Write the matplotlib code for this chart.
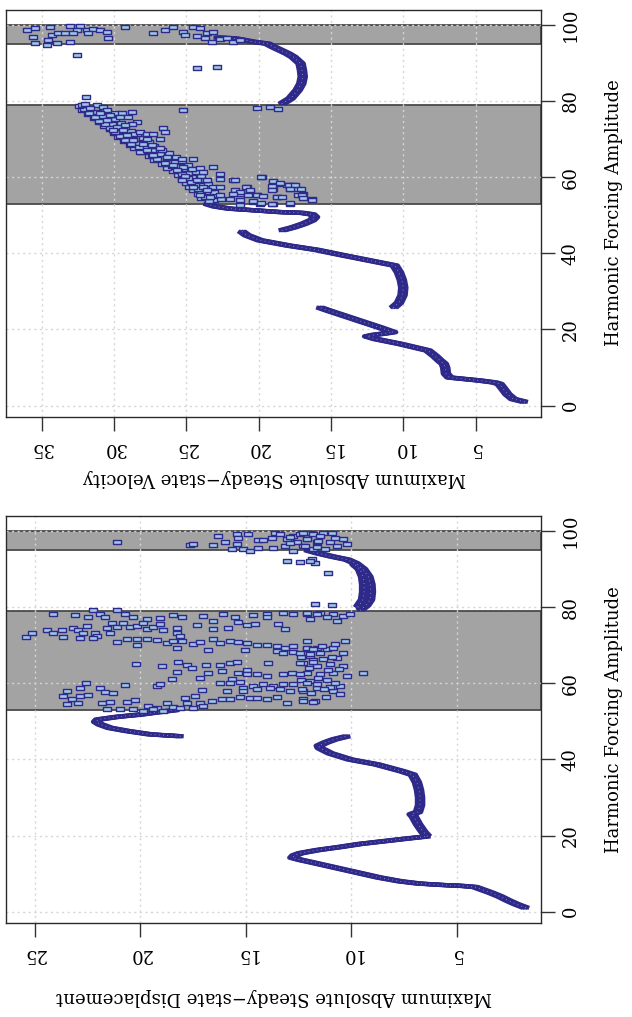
import numpy as np
import matplotlib
matplotlib.use("Agg")
import matplotlib.pyplot as plt
from matplotlib.path import Path
from matplotlib.transforms import offset_copy

plt.rcParams['font.family'] = ['DejaVu Serif']

# ---------------- data ----------------
F_TICKS = [0, 20, 40, 60, 80, 100]
D_TICKS = [5, 10, 15, 20, 25]
V_TICKS = [5, 10, 15, 20, 25, 30, 35]
BANDS = [(53.0, 79.0), (95.0, 100.0)]

# Displacement: continuous branches (forcing F, displacement D)
disp_b1_F = [1, 2, 3, 4, 5, 6, 6.5, 6.8, 7.0, 7.4, 8.0, 9.0, 10.0, 11.0, 12.0, 13.0, 13.6, 14.2,
             14.8, 15.4, 16.2, 17.0, 17.8, 18.5, 19.2, 19.8]
disp_b1_D = [1.73, 2.2, 2.6, 2.96, 3.4, 3.9, 4.15, 4.8, 5.6, 6.8, 7.7, 8.7, 9.5, 10.3, 11.1, 11.9, 12.4, 12.8,
             12.7, 12.4, 11.6, 10.55, 9.6, 8.5, 7.4, 6.4]
disp_b2_F = [19.8, 21, 23, 25, 25.6, 26.2, 28, 30, 32, 34, 36, 36.9, 38.7, 40, 41.6, 43.0, 43.6, 44.5, 45.3, 46.1]
disp_b2_D = [6.4, 6.6, 6.85, 7.05, 7.15, 6.85, 6.75, 6.75, 6.8, 6.9, 7.1, 7.6, 8.8, 10.07, 11.0, 11.5, 11.55, 11.2, 10.8, 10.2]
disp_b3_F = [46.1, 46.6, 47.5, 48.3, 49.2, 49.9, 50.5, 51.2, 51.8, 52.4, 53.0]
disp_b3_D = [18.1, 19.55, 20.65, 21.45, 21.9, 22.1, 22.0, 21.1, 20.0, 19.2, 18.3]
disp_b4_F = [79.2, 80.5, 82, 84, 86, 88, 90, 91.5, 92.5, 93.3, 94.2, 95.0]
disp_b4_D = [9.6, 9.3, 9.12, 9.08, 9.1, 9.2, 9.45, 9.8, 10.2, 10.9, 11.6, 12.1]
disp_b5_F = [80, 82, 84, 86, 88, 90, 91.5]
disp_b5_D = [9.7, 9.45, 9.4, 9.4, 9.45, 9.6, 9.9]

# Displacement: scattered points (F, D)
disp_upper_pts = [
    (97.0, 21.13), (96.3, 17.65), (96.6, 17.5), (96.3, 16.55), (98.8, 16.31), (97.0, 16.0), (95.3, 15.68),
    (99.2, 15.44), (98.3, 15.36), (96.6, 15.44), (95.3, 15.13), (99.2, 14.89), (94.8, 14.81), (97.7, 14.42),
    (95.5, 14.42), (97.7, 14.18), (98.1, 13.78), (95.5, 13.71), (99.6, 13.63), (99.2, 13.39), (96.1, 13.15),
    (97.9, 13.07), (98.8, 12.76), (94.8, 12.76), (97.0, 12.6), (99.2, 12.44), (96.1, 12.28), (97.9, 12.12),
    (99.6, 11.97), (95.3, 11.81), (97.0, 11.65), (92.2, 13.07), (91.9, 12.44), (92.6, 11.89), (91.6, 11.73),
    (99.6, 12.28), (99.2, 11.81), (99.6, 11.33), (99.6, 10.94), (97.9, 12.12), (97.5, 11.57), (97.0, 11.02),
    (97.9, 10.39), (96.1, 12.2), (95.7, 11.65), (96.1, 10.7), (96.6, 10.23), (95.3, 11.26), (92.2, 11.97),
    (88.9, 11.1), (80.8, 11.73), (80.5, 10.94), (98.4, 12.9), (98.6, 11.5), (96.8, 12.9), (98.2, 10.8)]
disp_lower_pts = [
    (78.2, 12.12), (78.6, 11.49), (78.2, 10.86), (77.7, 10.39), (78.2, 10.07), (76.8, 11.97), (77.3, 11.18),
    (76.4, 10.7), (71.1, 10.31), (71.1, 12.12), (68.9, 12.12), (69.4, 11.65), (68.9, 11.18), (69.4, 10.86),
    (68.1, 10.39), (67.2, 11.97), (66.3, 11.33), (66.7, 10.7), (65.4, 12.28), (64.6, 11.65), (65.0, 11.02),
    (64.6, 10.39), (62.8, 12.12), (62.4, 11.49), (62.8, 10.86), (61.9, 10.23), (62.8, 9.44), (60.6, 11.97),
    (61.0, 11.18), (59.3, 10.55), (58.0, 12.28), (58.9, 11.65), (58.0, 10.86), (57.3, 10.55), (55.8, 12.28),
    (55.4, 11.73),
    (56.5, 11.2), (57.5, 11.9), (59.0, 11.0), (60.0, 10.8), (61.5, 11.6), (63.5, 11.1), (64.0, 12.0),
    (66.0, 11.8), (67.0, 10.9), (68.0, 11.5), (69.9, 11.4), (70.4, 10.8), (63.8, 10.6), (60.9, 12.4),
    (66.9, 12.4), (58.6, 11.3),
    (78.15, 24.13), (77.98, 23.10), (79.2, 22.24), (77.3, 22.47), (78.15, 21.92), (77.3, 21.68), (79.2, 21.13),
    (78.15, 20.74), (77.55, 20.34), (76.85, 19.71), (77.1, 19.07), (78.0, 18.44), (77.55, 18.05), (77.7, 17.02),
    (78.15, 16.07), (77.55, 15.52), (78.0, 14.65), (78.15, 14.02), (78.6, 13.23), (78.15, 12.76), (78.4, 12.12),
    (78.15, 11.65),
    (72.2, 25.40), (73.3, 25.16), (73.95, 24.45), (73.1, 24.13), (74.0, 23.74), (72.3, 23.66), (74.65, 23.18),
    (73.95, 22.95), (73.3, 22.71), (75.1, 22.55), (73.3, 22.16), (72.5, 22.08), (74.65, 21.60), (73.3, 21.45),
    (75.95, 21.37), (74.9, 21.13), (75.95, 20.81), (74.8, 20.50), (75.1, 20.18), (75.95, 19.87), (74.2, 19.71),
    (74.8, 19.39), (75.5, 19.07), (73.95, 18.92), (74.65, 18.29), (73.3, 18.29), (72.5, 18.13), (75.35, 17.34),
    (74.2, 16.55), (76.4, 16.55), (74.65, 15.84), (76.15, 15.36), (75.3, 14.97), (75.5, 14.57), (77.55, 14.02),
    (75.5, 13.47), (74.2, 13.15),
    (72.0, 22.87), (72.0, 22.24), (70.9, 21.13), (71.6, 20.66), (71.6, 20.18), (70.1, 20.18), (71.6, 19.71),
    (71.4, 19.23), (70.5, 18.76), (71.15, 18.44), (71.15, 18.05), (70.45, 17.50), (70.9, 17.18), (71.6, 16.55),
    (70.5, 16.23), (71.15, 15.76), (70.9, 15.36), (70.5, 14.97), (70.0, 14.49), (70.1, 14.02), (69.8, 13.55),
    (69.4, 13.15), (69.8, 12.76), (69.4, 12.12), (68.95, 11.81),
    (69.4, 18.29), (68.8, 16.79), (68.8, 15.05), (68.5, 13.55), (67.9, 13.23), (68.25, 12.76), (68.1, 12.44),
    (67.6, 11.97),
    (65.0, 20.23), (64.6, 19.0), (65.7, 18.21), (64.8, 17.81), (64.8, 16.87), (64.8, 16.23), (65.3, 15.76),
    (65.7, 15.44), (65.45, 13.94), (65.3, 12.44), (65.6, 11.81),
    (63.1, 18.29), (64.1, 17.58), (61.5, 17.18), (62.8, 16.79), (63.3, 16.15), (63.5, 14.97), (62.4, 14.49),
    (62.4, 14.97), (62.8, 15.36), (61.9, 14.02), (62.4, 13.23), (62.8, 12.84), (62.4, 12.44), (61.2, 18.52),
    (61.05, 15.68),
    (60.0, 22.60), (59.6, 20.74), (59.3, 19.23), (59.75, 19.07), (60.0, 16.23), (60.0, 15.76), (60.4, 15.28),
    (58.9, 15.13), (59.3, 14.65), (59.75, 14.18), (59.3, 13.71), (59.75, 13.23), (59.75, 12.76), (60.2, 12.12),
    (59.75, 11.65), (58.0, 23.50), (58.87, 22.87), (58.7, 21.92), (57.7, 21.68), (57.55, 21.29), (58.25, 17.10),
    (58.0, 15.92), (58.0, 15.13), (58.4, 14.49), (58.87, 13.86), (58.4, 13.39), (58.0, 12.91), (58.4, 12.36),
    (56.7, 23.66), (55.8, 23.26), (56.7, 22.87), (56.85, 22.47), (54.5, 23.50), (54.75, 22.95), (54.9, 21.84),
    (55.1, 21.45), (55.1, 20.66), (55.5, 20.26), (54.05, 19.63), (53.6, 19.23), (54.75, 18.76), (53.9, 18.44),
    (56.2, 17.89), (54.9, 17.81), (56.7, 17.42), (54.9, 17.18), (55.3, 16.63), (55.8, 16.15), (55.9, 15.76),
    (56.5, 15.28), (56.1, 14.81), (56.25, 14.49), (55.9, 14.02), (56.3, 13.55), (54.9, 13.07), (55.3, 12.28),
    (55.1, 11.81), (53.2, 21.60), (53.2, 20.97), (53.35, 20.34), (52.75, 19.87), (53.2, 19.39), (52.75, 18.92),
    (53.6, 18.13), (53.6, 17.5), (54.05, 17.02)]

# Velocity: continuous branches (forcing F, velocity V)
vel_b1_F = [1, 1.75, 3, 4.5, 5.7, 6.1, 6.6, 7.4, 8.4, 10, 11, 11.8, 13, 14.5, 16.2, 17.5, 18.2, 18.6, 19.0,
            19.3, 20.5, 22, 23.5, 25, 25.8]
vel_b1_V = [1.6, 2.4, 2.8, 3.1, 3.35, 3.7, 4.7, 6.8, 7.05, 7.1, 7.2, 7.46, 7.8, 8.3, 10.2, 11.9, 12.5, 12.0,
            11.2, 10.7, 11.6, 12.8, 14.0, 15.2, 15.8]
vel_b2_F = [25.7, 27, 29, 31, 33, 35, 36.8, 38, 39.5, 40.9, 42, 43.4, 44.7, 45.8]
vel_b2_V = [10.7, 10.3, 10.05, 10.0, 10.1, 10.3, 10.6, 12.2, 14.2, 16.0, 17.9, 19.9, 20.8, 21.2]
vel_b3_F = [46.0, 46.8, 47.7, 48.7, 49.5, 50.2, 50.6, 50.8, 51.2, 51.7, 52.3, 53.0]
vel_b3_V = [18.4, 17.6, 16.9, 16.3, 16.1, 16.3, 17.0, 18.5, 20.0, 22.0, 23.0, 23.6]
vel_b4_F = [79.2, 80.6, 82.8, 84.5, 86.3, 88, 89.8, 91.5, 92.4, 93.3, 94.2, 95.0, 95.5, 96.0, 96.4, 96.6]
vel_b4_V = [18.4, 17.8, 17.3, 17.05, 16.95, 17.0, 17.1, 17.6, 18.0, 18.5, 19.0, 19.4, 20.4, 21.1, 21.7, 22.9]

# Velocity: dense diagonal cloud inside the first band
vel_core_F = [54, 55, 56, 57, 58, 59, 60, 61, 62, 63, 64, 65, 66, 67, 68, 69, 70, 71, 72, 73, 74, 75, 76, 77, 78]
vel_core_V = [23.1, 23.4, 23.6, 23.8, 24.0, 24.3, 24.6, 24.9, 25.2, 25.5, 25.8, 26.3, 26.8, 27.4, 27.9, 28.3,
              28.7, 29.1, 29.5, 29.8, 30.1, 30.4, 30.8, 31.2, 31.7]
vel_core2_F = [54.5, 55.5, 56.5, 57.5, 58.5, 59.5, 60.5, 61.5, 62.5, 63.5, 64.5, 65.5, 66.5, 67.5, 68.5, 69.5,
               70.5, 71.5, 72.5, 73.5, 74.5, 75.5, 76.5, 77.5]
vel_core2_V = [24.0, 24.2, 24.5, 24.8, 25.0, 25.3, 25.6, 25.9, 26.3, 26.7, 27.2, 27.6, 28.1, 28.6, 28.9, 29.3,
               29.7, 30.0, 30.3, 30.7, 31.0, 31.4, 31.8, 32.2]
vel_core3_F = [54.2, 55.2, 56.2, 57.2, 58.2, 59.2, 60.2, 61.2, 62.2, 63.2, 64.2, 65.2, 66.2, 67.2, 68.2, 69.2,
               70.2, 71.2, 72.2, 73.2, 74.2, 75.2, 76.2, 77.2]
vel_core3_V = [22.6, 22.9, 23.1, 23.3, 23.5, 23.7, 24.0, 24.3, 24.6, 24.9, 25.3, 25.7, 26.2, 26.7, 27.2, 27.6,
               28.0, 28.4, 28.8, 29.2, 29.5, 29.9, 30.2, 30.6]
vel_core4_F = [53.6, 54.7, 55.8, 56.8, 57.8, 58.8, 59.8, 60.8, 61.8, 62.8, 63.8, 64.8, 65.8, 66.8, 67.8, 68.8,
               69.8, 70.8, 71.8, 72.8, 73.8, 74.8, 75.8, 76.8, 77.8, 78.6]
vel_core4_V = [23.4, 23.7, 24.0, 24.2, 24.4, 24.7, 24.9, 25.3, 25.6, 26.0, 26.5, 27.0, 27.4, 27.9, 28.3, 28.8,
               29.2, 29.6, 29.9, 30.3, 30.6, 31.0, 31.3, 31.7, 32.1, 32.4]

# Velocity: scattered points (F, V)
vel_lower_pts = [
    (80.9, 31.93), (78.8, 32.23), (79.1, 32.0), (78.8, 31.19), (78.0, 31.65), (78.3, 30.73), (77.5, 30.5),
    (76.8, 29.92), (76.8, 29.46), (77.1, 28.77), (76.7, 30.96), (76.2, 30.27), (75.8, 29.58), (75.8, 29.0),
    (74.5, 28.42), (74.0, 28.77), (73.6, 29.23), (73.1, 29.81), (74.9, 30.5), (72.3, 30.04), (72.3, 29.35),
    (71.4, 28.66), (71.8, 28.2), (71.4, 27.73), (71.4, 27.27), (72.9, 26.59), (71.8, 26.47), (70.1, 26.81),
    (70.1, 27.73), (68.8, 27.97), (68.3, 27.39), (67.5, 26.81), (69.6, 28.66), (71.0, 29.12), (66.6, 28.2),
    (67.0, 27.73), (65.7, 27.27), (65.3, 26.35), (64.7, 25.31), (64.8, 24.51), (63.1, 25.9), (62.6, 25.2),
    (62.2, 24.62), (62.5, 24.05), (62.6, 23.13), (61.3, 23.82), (60.4, 25.09), (61.8, 25.66), (60.9, 22.67),
    (59.6, 22.67), (59.1, 24.28), (59.1, 23.59), (59.1, 25.31), (57.4, 24.51), (57.4, 23.82), (57.4, 23.13),
    (57.4, 22.67), (59.1, 21.75), (56.5, 21.63), (57.4, 20.82), (56.0, 20.6), (55.6, 21.29), (55.2, 20.13),
    (60.0, 19.79), (58.7, 18.98), (58.3, 18.52), (57.8, 18.06), (57.8, 17.6), (56.9, 18.98), (54.7, 18.75),
    (56.9, 17.83), (56.9, 17.26), (55.6, 16.91), (54.3, 16.33), (55.2, 17.26), (53.0, 19.9), (52.9, 18.98),
    (53.0, 17.83), (52.6, 21.29), (53.4, 20.37), (55.2, 24.05), (54.7, 23.36), (55.2, 22.67), (54.3, 21.98),
    (56.5, 23.59), (77.5, 25.2), (78.0, 20.13), (78.3, 19.21), (77.8, 18.64),
    (59.3, 21.6), (60.0, 19.8), (58.9, 19.0), (58.5, 18.5), (58.0, 17.9), (57.8, 17.5), (57.6, 19.1),
    (56.7, 19.1), (56.9, 17.8), (56.9, 17.1), (57.5, 20.9), (56.1, 21.3), (56.5, 20.6), (55.6, 21.75),
    (55.4, 20.7), (55.2, 20.1), (55.0, 19.7), (54.7, 18.75), (54.7, 18.4), (55.4, 17.0), (54.6, 16.9),
    (54.1, 16.3), (54.0, 21.3), (53.7, 20.4), (53.2, 19.8), (52.8, 19.1), (53.2, 17.8)]
vel_upper_pts = [
    (98.6, 36.03), (99.0, 35.45), (99.4, 34.42), (99.6, 33.03), (99.6, 32.34), (98.6, 32.57), (98.7, 31.88),
    (98.8, 31.42), (98.7, 30.96), (98.1, 30.5), (96.8, 35.57), (97.3, 34.3), (97.7, 33.84), (97.7, 33.38),
    (97.7, 32.8), (97.7, 31.77), (95.9, 34.53), (95.2, 33.95), (95.1, 35.45), (94.6, 34.65), (95.5, 33.03),
    (96.4, 30.39), (99.3, 29.23), (97.7, 27.27), (98.7, 26.47), (99.3, 25.9), (98.1, 25.2), (99.3, 24.51),
    (99.0, 24.05), (97.7, 23.59), (98.1, 23.13), (97.3, 25.09), (97.0, 24.28), (96.4, 23.7), (95.5, 23.24),
    (96.1, 22.67), (96.4, 22.2), (95.5, 21.75), (95.9, 21.29), (92.0, 32.57), (88.7, 24.28), (88.9, 22.9)]

# ---------------- style ----------------
EDGE = '#2f2a8a'
FACE = '#9fc6e8'
BAND = '#a3a3a3'
BAND_EDGE = '#4a4a4a'
GRID = '#d6d6d6'
RECT = Path([(-1, -0.45), (1, -0.45), (1, 0.45), (-1, 0.45), (-1, -0.45)],
            [Path.MOVETO, Path.LINETO, Path.LINETO, Path.LINETO, Path.CLOSEPOLY])

W, H = 632, 1017
fig = plt.figure(figsize=(W / 100, H / 100), dpi=100)


def add_ax(l, r, t, b):
    return fig.add_axes([l / W, 1 - b / H, (r - l) / W, (b - t) / H])


ax_v = add_ax(6, 541, 9.5, 417)
ax_d = add_ax(6, 541, 516, 923)


def style(ax, xlim, xticks):
    ax.set_xlim(*xlim)
    ax.set_ylim(-2.96, 103.96)
    ax.set_xticks(xticks)
    ax.set_yticks(F_TICKS)
    ax.yaxis.tick_right()
    ax.tick_params(axis='y', which='both', direction='out', length=10, width=1, color='#333333',
                   labelsize=13, labelrotation=90, pad=5)
    ax.tick_params(axis='x', direction='out', length=10, width=1, color='#333333',
                   labelsize=13, labelrotation=180, pad=6)
    for lbl in ax.get_yticklabels():
        lbl.set_va('center')
    for s in ax.spines.values():
        s.set_color('#2a2a2a')
        s.set_linewidth(1.0)
    for lo, hi in BANDS:
        ax.axhspan(lo, hi, facecolor=BAND, edgecolor=BAND_EDGE, lw=1.3, zorder=0.5)
    for t in F_TICKS:
        ax.axhline(t, color=GRID, lw=1, ls=(0, (1.5, 2.5)), zorder=1)
    for t in xticks:
        ax.axvline(t, color=GRID, lw=1, ls=(0, (1.5, 2.5)), zorder=1)


def curve(ax, x, y, half=3.2):
    for dx in (-half, -half / 2, 0, half / 2, half):
        tr = offset_copy(ax.transData, fig=fig, x=dx, y=0, units='dots')
        ax.plot(x, y, color=EDGE, lw=3.0, transform=tr, zorder=2,
                solid_capstyle='butt', solid_joinstyle='round')
    ax.plot(x, y, color='#8fa8d8', lw=0.6, ls=(0, (1, 4)), zorder=2.5)


def points(ax, pts):
    f = [p[0] for p in pts]
    v = [p[1] for p in pts]
    ax.plot(v, f, ls='none', marker=RECT, ms=6, mfc=FACE, mec=EDGE, mew=1.0, zorder=3)


style(ax_d, (26.37, 1.02), D_TICKS)
style(ax_v, (37.46, 0.48), V_TICKS)

# displacement panel
curve(ax_d, disp_b1_D, disp_b1_F)
curve(ax_d, disp_b2_D, disp_b2_F)
curve(ax_d, disp_b3_D, disp_b3_F)
curve(ax_d, disp_b4_D, disp_b4_F)
curve(ax_d, disp_b5_D, disp_b5_F)
points(ax_d, disp_upper_pts)
points(ax_d, disp_lower_pts)

# velocity panel
curve(ax_v, vel_b1_V, vel_b1_F)
curve(ax_v, vel_b2_V, vel_b2_F)
curve(ax_v, vel_b3_V, vel_b3_F)
curve(ax_v, vel_b4_V, vel_b4_F)
for vv, ff in ((vel_core_V, vel_core_F), (vel_core2_V, vel_core2_F), (vel_core3_V, vel_core3_F),
               (vel_core4_V, vel_core4_F)):
    ax_v.plot(vv, ff, ls='none', marker=RECT, ms=6, mfc=FACE, mec=EDGE, mew=1.0, zorder=3)
points(ax_v, vel_lower_pts)
points(ax_v, vel_upper_pts)

# axis titles (rotated page)
fig.text(614 / W, 1 - 720 / H, 'Harmonic Forcing Amplitude', rotation=90, ha='center', va='center', fontsize=13)
fig.text(614 / W, 1 - 213 / H, 'Harmonic Forcing Amplitude', rotation=90, ha='center', va='center', fontsize=13)
fig.text(274 / W, 1 - 997 / H, 'Maximum Absolute Steady\u2212state Displacement', rotation=180,
         ha='center', va='center', fontsize=13)
fig.text(274 / W, 1 - 478 / H, 'Maximum Absolute Steady\u2212state Velocity', rotation=180,
         ha='center', va='center', fontsize=13)

fig.savefig('out.png', dpi=100)
